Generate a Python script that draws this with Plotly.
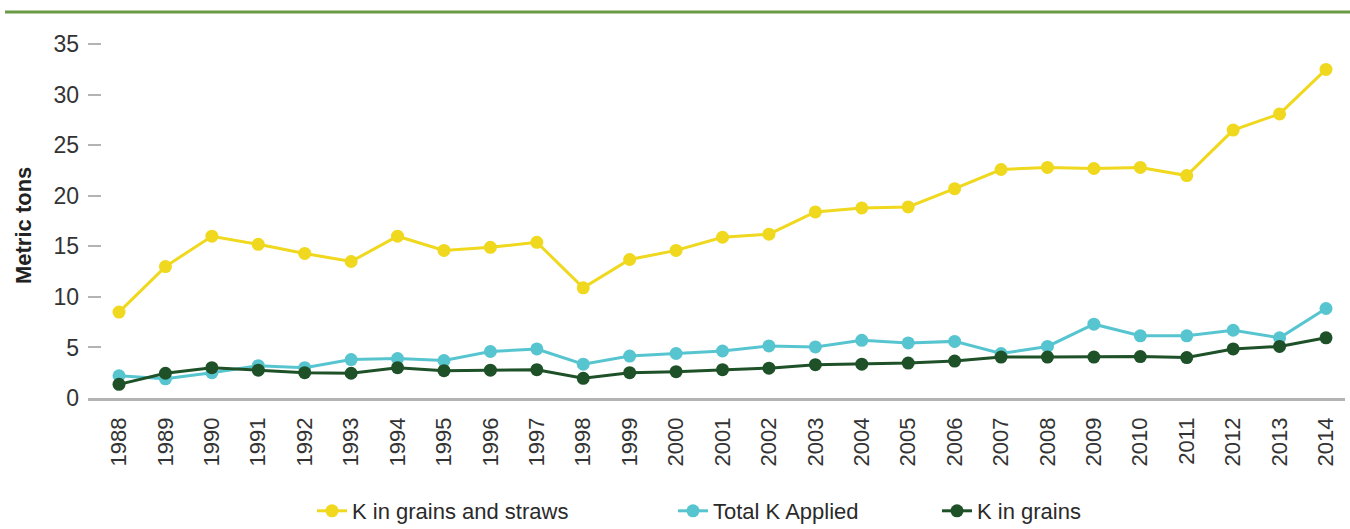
import plotly.graph_objects as go

years = list(range(1988, 2015))

k_grains_straws = [8.5, 13.0, 16.0, 15.2, 14.3, 13.5, 16.0, 14.6, 14.9, 15.4,
                   10.9, 13.7, 14.6, 15.9, 16.2, 18.4, 18.8, 18.9, 20.7, 22.6,
                   22.8, 22.7, 22.8, 22.0, 26.5, 28.1, 32.5]
total_k_applied = [2.2, 1.9, 2.5, 3.2, 3.0, 3.8, 3.9, 3.7, 4.6, 4.85,
                   3.35, 4.15, 4.4, 4.65, 5.15, 5.05, 5.7, 5.45, 5.6, 4.4,
                   5.1, 7.3, 6.15, 6.15, 6.7, 5.95, 8.85]
k_grains = [1.35, 2.45, 3.0, 2.75, 2.5, 2.45, 3.0, 2.7, 2.75, 2.8,
            1.95, 2.5, 2.6, 2.8, 2.95, 3.3, 3.35, 3.45, 3.65, 4.05,
            4.05, 4.05, 4.1, 4.0, 4.85, 5.1, 5.95]

y_ticks = [0, 5, 10, 15, 20, 25, 30, 35]

series = [
    ("K in grains and straws", k_grains_straws, "#EFD81D", "legend"),
    ("Total K Applied", total_k_applied, "#57C5D0", "legend2"),
    ("K in grains", k_grains, "#1E5128", "legend3"),
]

FONT = "Liberation Sans Narrow, Arial Narrow, Liberation Sans, Arial, sans-serif"

fig = go.Figure()
for name, vals, color, leg in series:
    fig.add_trace(go.Scatter(
        x=years, y=vals, name=name, mode="lines+markers",
        line=dict(color=color, width=3),
        marker=dict(color=color, size=13),
        legend=leg,
    ))

legend_common = dict(
    orientation="h", yanchor="middle", xanchor="left",
    xref="container", yref="container", y=1 - 511 / 529,
    font=dict(family=FONT, size=22, color="#2a2a2a"),
    bgcolor="rgba(0,0,0,0)", borderwidth=0,
)

fig.update_layout(
    width=1350, height=529,
    margin=dict(l=88, r=5, t=34, b=131),
    paper_bgcolor="white", plot_bgcolor="white",
    font=dict(family=FONT, size=22, color="#333333"),
    showlegend=True,
    legend=dict(x=312 / 1350, **legend_common),
    legend2=dict(x=673 / 1350, **legend_common),
    legend3=dict(x=937 / 1350, **legend_common),
    xaxis=dict(
        range=[1987.332, 2014.409], automargin=False,
        tickmode="array", tickvals=years, ticktext=[str(y) for y in years],
        tickangle=-90, showgrid=False, zeroline=False,
        showline=True, linecolor="#B3B3B3", linewidth=2.5,
        ticks="", ticklabelstandoff=8,
        tickfont=dict(family=FONT, size=22, color="#333333"),
    ),
    yaxis=dict(
        range=[0, 36], automargin=False, tickmode="array", tickvals=y_ticks,
        showgrid=False, zeroline=False, showline=False,
        ticks="inside", ticklen=13, tickwidth=1.5, tickcolor="#B3B3B3",
        ticklabelstandoff=8,
        tickfont=dict(family=FONT, size=23, color="#333333"),
    ),
    shapes=[dict(
        type="line", xref="paper", yref="paper",
        x0=-0.066, x1=1.01, y0=1.0604, y1=1.0604,
        line=dict(color="#6B9A45", width=3),
    )],
    annotations=[dict(
        text="<b>Metric tons</b>", xref="paper", yref="paper",
        x=-0.0517, y=0.4725, textangle=-90, showarrow=False,
        xanchor="center", yanchor="middle",
        font=dict(family=FONT, size=22, color="#222222"),
    )],
)

fig.write_html("out.html")
